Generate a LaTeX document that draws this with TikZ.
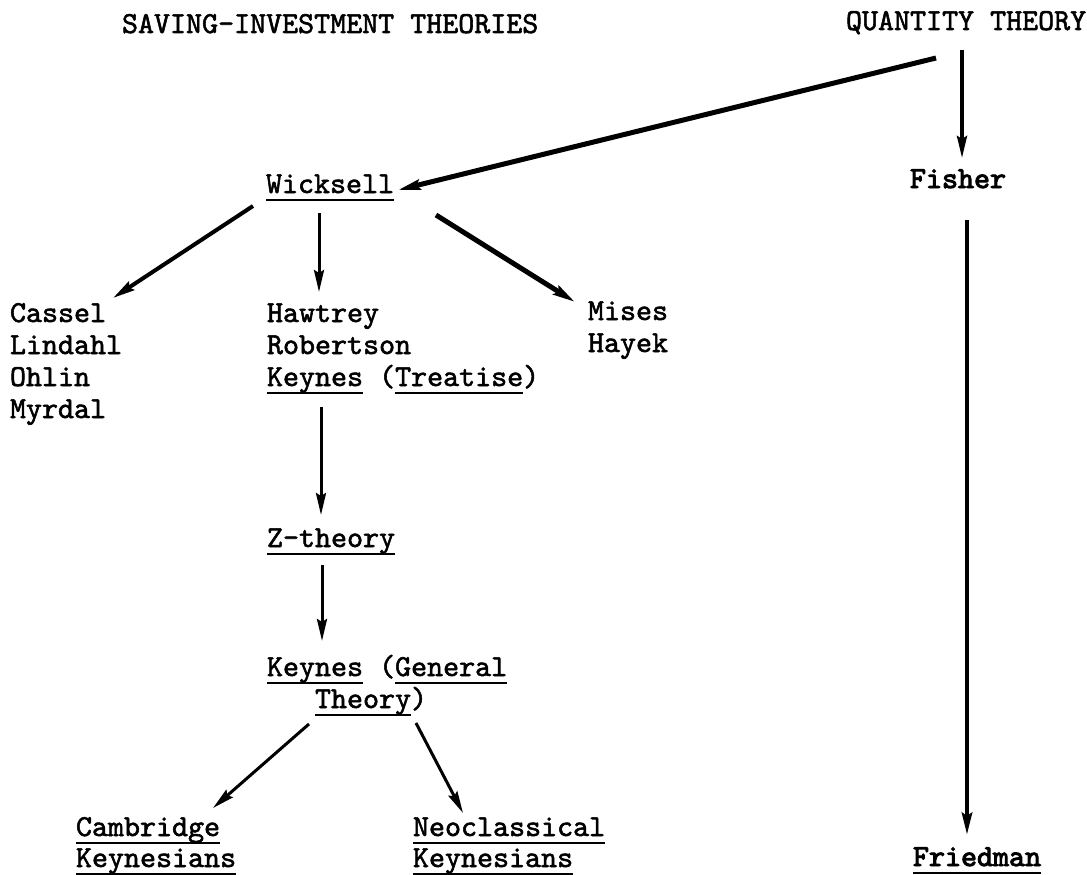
\documentclass[tikz,border=0pt]{standalone}
\usepackage{fontspec}
\newfontfamily\tw{lmmono10-regular.otf}[FakeBold=1.8]
\newfontfamily\twb{lmmono10-regular.otf}[FakeBold=3.2]
\usetikzlibrary{arrows.meta}
\newsavebox\ulbox
\newcommand\uln[1]{\sbox\ulbox{#1}\rlap{\rule[-8pt]{\wd\ulbox}{2pt}}\usebox\ulbox}
\tikzset{lbl/.style = {anchor = base west, inner sep = 0, outer sep = 0, font = \tw\fontsize{30.5}{32}\selectfont}}
\tikzset{dark/.style = {lbl, font = \twb\fontsize{30.5}{32}\selectfont}}
\tikzset{arr/.style = {line width = 3pt, -{Stealth[length=22pt, width=10pt, inset=3pt]}}}
\tikzset{heavy/.style = {arr, line width = 5pt}}

\begin{document}
\begin{tikzpicture}[x=1pt, y=-1pt]
\useasboundingbox (0,0) rectangle (1087,875);
\node [lbl] (si) at (122,33) {SAVING-INVESTMENT THEORIES};
\node [lbl] (qt) at (846,30) {QUANTITY THEORY};
\node [lbl] (wick) at (266,193) {\uln{Wicksell}};
\node [dark] (fisher) at (910,188) {Fisher};
\node [lbl] (cassel) at (10,322) {Cassel};
\node [lbl] (lindahl) at (10,354) {Lindahl};
\node [lbl] (ohlin) at (10,386) {Ohlin};
\node [lbl] (myrdal) at (10,418) {Myrdal};
\node [lbl] (hawtrey) at (267,322) {Hawtrey};
\node [lbl] (robertson) at (267,354) {Robertson};
\node [lbl] (keynesT) at (267,386) {\uln{Keynes} (\uln{Treatise})};
\node [lbl] (mises) at (588,320) {Mises};
\node [lbl] (hayek) at (588,352) {Hayek};
\node [lbl] (ztheory) at (267,547) {\uln{Z-theory}};
\node [lbl] (keynesG) at (267,676) {\uln{Keynes} (\uln{General}};
\node [lbl] (gtheory) at (315,708) {\uln{Theory})};
\node [lbl] (cambridge) at (76,836) {\uln{Cambridge}};
\node [lbl] (keynesiansC) at (76,867) {\uln{Keynesians}};
\node [lbl] (neo) at (413,836) {\uln{Neoclassical}};
\node [lbl] (keynesiansN) at (413,867) {\uln{Keynesians}};
\node [dark] (friedman) at (913,866) {\uln{Friedman}};
% quantity theory side
\draw [heavy] ([shift={(90,28)}]qt.base west) -- ([shift={(132,-3)}]wick.base west);
\draw [arr, line width = 3.5pt] ([shift={(116,20)}]qt.base west) -- ([shift={(52,-30)}]fisher.base west);
\draw [arr, line width = 4.5pt] ([shift={(57,32)}]fisher.base west) -- ([shift={(54,-31)}]friedman.base west);
% saving-investment side
\draw [arr, line width = 4pt] ([shift={(-13,13)}]wick.base west) -- ([shift={(103,-24)}]cassel.base west);
\draw [arr] ([shift={(53,20)}]wick.base west) -- ([shift={(52,-30)}]hawtrey.base west);
\draw [heavy] ([shift={(170,22)}]wick.base west) -- ([shift={(-13,-18)}]mises.base west);
\draw [arr] ([shift={(54,21)}]keynesT.base west) -- ([shift={(54,-32)}]ztheory.base west);
\draw [arr] ([shift={(55,18)}]ztheory.base west) -- ([shift={(55,-35)}]keynesG.base west);
\draw [arr] ([shift={(-6,16)}]gtheory.base west) -- ([shift={(137,-28)}]cambridge.base west);
\draw [arr] ([shift={(101,15)}]gtheory.base west) -- ([shift={(50,-23)}]neo.base west);
\end{tikzpicture}
\end{document}
